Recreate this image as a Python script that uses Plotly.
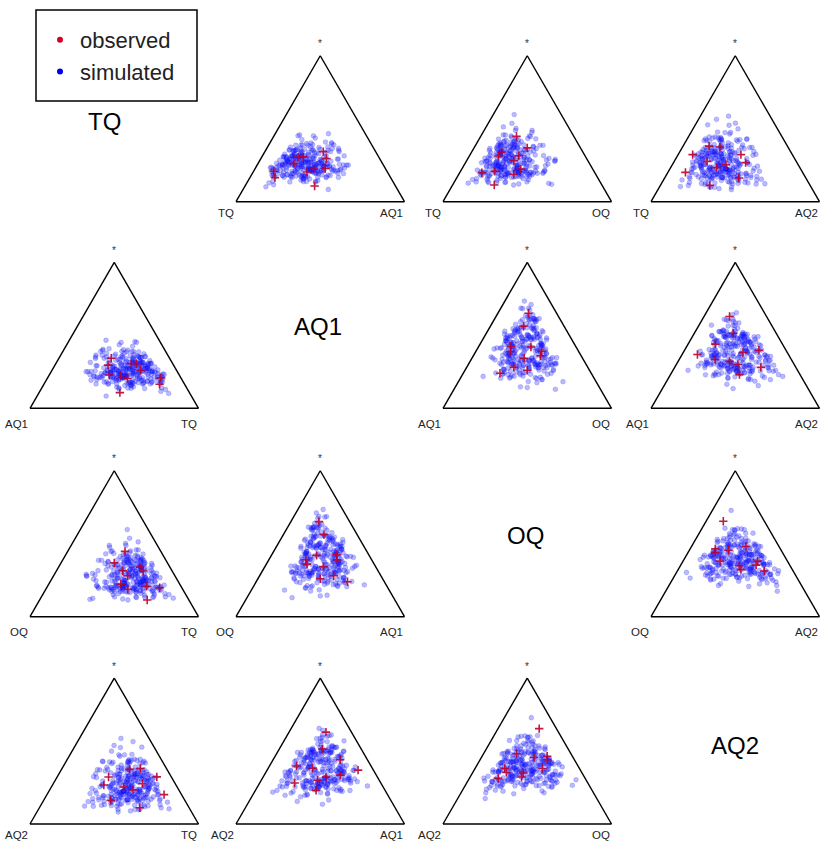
import numpy as np
import plotly.graph_objects as go

# ---------------- data ----------------
parts = ["TQ", "AQ1", "OQ", "AQ2"]

# simulated compositions, stored as log-ratios to TQ
sim_ln_AQ1_TQ = [
    -0.37, -1.27, -0.07, -0.79, 0.35, -0.49, -0.97, 0.71, -0.67, -0.19,
    -1.51, -0.31, -0.61, 0.11, -1.09, -0.55, -0.13, -0.85, -1.87, 0.23,
    -0.43, -0.73, -0.01, -1.15, -0.25, -0.91, 0.53, -1.03, -0.49, -1.39,
    -0.31, 0.05, -0.67, -1.21, -0.19, -0.43, -0.79, 0.29, -1.57, -0.07,
    -0.61, -0.37, -1.09, 0.17, -0.73, -0.13, -0.91, -0.55, 0.89, -1.33,
    -0.25, -0.67, 0.41, -0.85, -0.49, -1.15, -0.01, -0.97, -0.37, -1.69,
    0.11, -0.61, -0.31, -1.03, -0.19, 0.47, -0.79, -0.43, -1.27, -0.07,
    -0.73, -0.55, 0.23, -1.45, -0.25, -0.91, -0.43, 0.05, -1.09, -0.67,
    -0.13, -1.21, -0.37, 0.59, -0.85, -0.49, -1.03, -0.31, -1.75, 0.17,
    -0.61, -0.19, -0.79, -0.01, -1.33, -0.43, 0.35, -0.97, -0.55, -0.73,
    -0.07, -1.63, -0.31, 0.11, -0.91, -0.37, -0.67, 0.65, -1.15, -0.25,
    -0.79, -0.49, 0.29, -1.09, -0.13, -1.45, -0.55, -0.19, -0.61, 0.05,
    -1.27, -0.37, -0.97, 0.41, -0.73, -0.01, -2.05, -0.43, -0.25, -1.03,
    0.17, -0.85, -0.31, -1.21, -0.49, 0.53, -0.67, -0.91, -0.07, -1.39,
    -0.55, 0.23, -1.09, -0.37, -0.79, -0.13, -1.51, 0.05, -0.43, -0.61,
    -0.19, -1.15, 0.77, -0.73, -0.31, -0.97, 0.11, -1.27, -0.25, -0.49,
    -0.97, 0.12, -0.38, -1.64, -0.21, 0.37, -0.72, -1.14, 0.79, -0.55,
    -0.05, -1.39, 0.21, -0.89, -0.30, -1.56, 0.46, -0.47, -1.05, -0.13,
    -1.31, 0.63, -0.63, 0.04, -1.81, -0.38, -0.80, 0.29, -1.22, -0.21,
    0.63, -1.05, -0.30, 0.21, -1.47, -0.72, 0.54, -0.05, -0.89, -1.56,
    0.04, -1.31, -0.47, -0.97, 0.96, -0.38, -1.73, 0.12, -0.55, -0.13,
    -0.80, 0.37, -1.14, -0.21, -1.81, 0.21, -0.30, -0.63, 0.71, -1.05,
    -0.38, -1.39, -0.05, 0.46, -1.22, -0.55, -0.89, 0.88, -0.13, -1.64,
    0.21, -0.72, -1.05, -0.30, 0.29, -1.56, 0.04, -0.80, -0.21, 0.63,
    -1.47, -0.47, -0.97, -0.05, -0.38, -1.31, 0.54, -1.14, -0.30, -0.63,
    0.46, -1.73, 0.12, -0.80, -0.13, -1.05, -0.55, 0.37, -1.98, -0.21,
    -0.72, 0.21, -1.56, -0.05, -0.47, 0.71, -1.22, -0.30, -0.97, 0.29,
    -0.21, -1.47, -0.80, 0.04, -1.31, -0.38, 0.71, -0.89, 0.12, -1.81,
]
sim_ln_OQ_TQ = [
    -0.84, -0.66, -0.32, -1.47, 0.00, -0.09, -1.01, -0.37, 0.07, -0.49,
    -0.89, -1.06, -0.25, -0.53, -0.82, -1.60, 0.16, -0.79, -1.69, -0.01,
    -1.08, -0.06, -0.44, -0.64, -1.29, -0.77, -0.26, -0.43, -1.06, -0.92,
    0.47, -0.67, -0.59, -0.57, -1.05, -0.72, -0.15, 0.07, -1.43, -1.04,
    -0.36, -1.04, -0.92, -0.55, 0.14, -0.35, -1.59, -0.27, 0.09, -0.84,
    -0.67, -0.18, -0.53, -0.64, -1.72, -0.54, -0.24, -0.96, 0.18, -1.59,
    -0.23, -1.22, -0.25, -0.32, -0.90, -0.14, -1.01, 0.25, -0.81, -1.09,
    -0.32, -0.78, -0.57, -1.01, -0.01, -1.69, -0.26, -0.51, -0.76, -0.03,
    -1.02, -0.98, -0.84, 0.23, -0.74, -1.11, 0.03, -0.91, -1.17, -0.35,
    -0.10, -1.20, -0.40, -0.55, -0.84, -0.92, -0.20, -0.34, -1.55, -0.57,
    -0.53, -0.80, -1.16, -0.02, -0.82, 0.54, -1.15, 0.11, -1.26, -0.01,
    -0.60, -1.21, -0.39, -0.61, -0.92, -1.06, 0.09, -0.69, -0.30, -1.38,
    -0.81, -0.58, -0.24, -0.47, -0.32, -0.49, -1.28, -1.13, 0.30, -0.89,
    -0.65, -0.69, -1.32, -0.62, -0.09, -0.31, -0.44, -0.92, -1.04, -1.03,
    -0.17, -0.52, -0.61, -0.99, 0.11, -0.61, -1.14, -0.11, -1.28, -0.25,
    -0.69, -0.39, 0.02, -1.24, -0.25, -0.19, -0.63, -0.91, -1.08, -0.29,
    0.02, -0.39, -0.31, -1.90, 0.07, 1.02, -1.13, -0.85, -0.81, -0.68,
    -0.84, -0.78, 0.58, -1.07, -0.47, -1.79, 0.50, -1.13, -0.74, 0.68,
    -1.80, 0.23, -0.73, 0.49, -1.71, -0.73, -0.25, -1.01, -0.61, -0.36,
    0.66, -1.52, -0.33, -1.41, -0.68, -0.84, 0.97, -0.13, -1.50, -1.22,
    -0.58, -0.23, -1.56, -0.55, 0.77, -1.02, -1.17, -0.60, 0.60, -1.17,
    -0.74, 0.24, -1.49, 0.28, -2.21, -0.06, -0.69, -0.16, 0.99, -1.31,
    -0.59, -0.63, -1.26, 0.14, -1.25, 0.24, -1.50, 0.23, -0.03, -1.98,
    0.08, -0.06, -1.02, -0.97, 0.34, -0.37, -0.65, -0.74, -0.29, -0.83,
    -1.74, -0.49, -0.12, -1.33, -0.31, -1.09, 0.54, -1.35, 0.59, -0.87,
    0.36, -2.02, -0.11, -0.46, -1.73, -0.10, -1.11, -0.11, -1.66, 0.07,
    0.30, -0.56, -1.22, 0.02, -1.63, 0.63, -0.90, -1.04, -0.98, 0.69,
    -1.14, -0.89, -0.32, -0.51, -0.38, -1.37, 0.21, -0.01, -0.68, -1.28,
]
sim_ln_AQ2_TQ = [
    -0.08, -0.88, -1.03, -0.52, -0.15, -0.89, 0.06, -0.28, -0.78, 0.14,
    -0.91, -0.23, -1.34, -0.26, -0.15, -1.00, -0.27, -1.72, -0.71, -0.68,
    0.09, -0.54, -0.21, -1.19, -0.21, 0.29, -0.57, -0.50, -1.32, -0.79,
    -0.62, -0.19, 0.09, -0.85, -0.54, -1.35, -0.01, -0.65, -0.76, 0.33,
    -1.08, -0.40, -0.73, 0.76, -0.72, -0.54, -0.39, -1.11, 0.19, -0.65,
    0.04, -0.94, -0.20, -1.52, -0.40, -0.72, 0.46, -0.49, -0.87, -0.99,
    -0.53, -0.04, -1.17, -0.31, -0.06, -0.61, -0.58, -0.58, 0.27, -1.14,
    -0.48, -0.27, -0.80, -0.20, -1.50, -0.70, -0.58, 0.02, 0.09, -0.74,
    -0.58, -0.38, -1.25, 0.05, -0.82, 0.07, -1.02, -0.47, -0.57, -1.33,
    -0.19, -0.07, -0.62, -0.79, -0.31, 0.45, -0.53, -0.53, -0.60, -1.21,
    -0.91, -0.69, -0.02, -1.04, -0.45, -0.28, -0.20, -0.47, 0.08, -0.49,
    -0.22, -1.24, -0.19, -0.39, -1.56, -0.16, -0.75, -0.46, -0.68, -0.17,
    0.10, -0.75, -0.56, -0.02, -1.32, 0.06, -0.87, -1.05, -0.37, 0.58,
    -0.95, -0.41, -0.28, -0.80, 0.12, -0.92, -0.38, -0.03, -0.85, -0.75,
    -1.37, 0.05, -0.83, -0.28, -0.45, -0.94, -0.07, -0.57, -0.18, -1.17,
    -0.40, -1.02, 0.10, -0.12, -1.28, -0.38, -0.50, -0.37, -0.39, -0.82,
    -0.59, -0.16, -1.17, -0.10, -0.59, 0.50, -1.17, -0.73, 0.73, -1.59,
    -0.13, -0.91, 0.29, -1.12, -0.41, -1.47, 0.56, -1.21, -0.45, -1.70,
    -0.10, -0.25, -0.29, -0.85, -0.56, 0.77, -0.85, -0.34, -1.63, 0.17,
    -0.31, -0.85, 0.55, -1.77, -0.36, -1.11, 0.13, 0.41, -1.52, -1.04,
    0.10, -1.48, -0.52, 0.85, -0.39, -0.54, -1.52, -0.13, -1.25, 0.33,
    -0.72, 0.25, -1.17, 0.39, -1.84, -0.15, 0.64, -1.03, 0.01, -1.04,
    0.09, -1.53, -0.30, 0.64, -1.29, -0.15, -0.97, 0.66, -1.15, -0.67,
    -0.59, -0.40, 0.35, -1.30, 0.34, -1.48, -0.47, -0.17, -0.51, 0.39,
    -1.91, -0.29, -1.09, 0.62, -0.70, -0.10, -1.13, -0.67, 0.13, -1.26,
    0.76, -1.47, -0.02, -1.44, -0.65, 0.31, -0.83, -0.76, -0.43, -1.45,
    -0.41, 0.60, -1.58, -0.11, -1.08, 0.48, -1.61, 0.17, -0.56, -0.21,
    -0.15, -1.58, 0.46, -0.67, -0.34, -1.24, 0.70, -1.44, -0.07, -0.86,
]

# observed compositions, log-ratios to TQ
obs_ln_AQ1_TQ = [-1.72, -1.53, 0.11, 0.21, 0.15, -0.15, -0.60, -0.40, -0.90, -0.20, -0.80]
obs_ln_OQ_TQ = [-1.63, -0.95, 0.00, -0.47, -0.30, -1.06, -0.45, -1.10, -0.40, -0.20, -1.00]
obs_ln_AQ2_TQ = [-0.71, -1.90, 0.20, 0.34, -0.60, -1.93, -0.30, -0.60, -1.00, -1.10, 0.10]

legend_labels = ["observed", "simulated"]
margin_label = "*"

# ---------------- helpers ----------------
def to_logs(l1, l2, l3):
    l1 = np.asarray(l1, float)
    return {"TQ": np.zeros_like(l1), "AQ1": l1,
            "OQ": np.asarray(l2, float), "AQ2": np.asarray(l3, float)}

def subcomp(logs, A, B):
    """3-part subcomposition (A, B, * = geometric mean of the remaining parts)."""
    rest = [p for p in parts if p not in (A, B)]
    ls = (logs[rest[0]] + logs[rest[1]]) / 2.0
    la, lb = logs[A], logs[B]
    m = np.maximum(np.maximum(la, lb), ls)
    ea, eb, es = np.exp(la - m), np.exp(lb - m), np.exp(ls - m)
    tot = ea + eb + es
    return es / tot, ea / tot, eb / tot   # a (top), b (bottom-left), c (bottom-right)

sim_logs = to_logs(sim_ln_AQ1_TQ, sim_ln_OQ_TQ, sim_ln_AQ2_TQ)
obs_logs = to_logs(obs_ln_AQ1_TQ, obs_ln_OQ_TQ, obs_ln_AQ2_TQ)

# ---------------- layout geometry ----------------
W, H = 833, 848
col_left = [30, 236, 443, 651]
row_bottom = [201.7, 408.3, 616.7, 824.0]
side = 168.5
tri_h = side * np.sqrt(3) / 2
corner_off = [11, 16, 15, 11]
diag_pos = [(104, 121), (318, 326), (525, 535), (735, 745)]

FONT = "Liberation Sans, Arial, sans-serif"
SIM_COLOR = "rgba(25,25,255,0.30)"
SIM_LINE = "rgba(0,0,235,0.32)"
OBS_COLOR = "rgba(185,0,45,0.9)"

fig = go.Figure()
annotations = []
layout_tern = {}

axis_style = dict(showgrid=False, showticklabels=False, ticks="", showline=True,
                  linecolor="black", linewidth=1.4, title=dict(text=""), min=0)

k = 0
for i, A in enumerate(parts):
    for j, B in enumerate(parts):
        if i == j:
            continue
        k += 1
        name = "ternary" if k == 1 else f"ternary{k}"
        x0 = col_left[j]
        yb = row_bottom[i]
        layout_tern[name] = dict(
            domain=dict(x=[x0 / W, (x0 + side) / W],
                        y=[1 - yb / H, 1 - (yb - tri_h) / H]),
            aaxis=axis_style, baxis=axis_style, caxis=axis_style,
            bgcolor="white", sum=1,
        )
        sa, sb, sc = subcomp(sim_logs, A, B)
        fig.add_trace(go.Scatterternary(
            a=sa, b=sb, c=sc, mode="markers", subplot=name, showlegend=False,
            marker=dict(size=4.8, color=SIM_COLOR, line=dict(width=0.5, color=SIM_LINE)),
            hoverinfo="skip"))
        oa, ob, oc = subcomp(obs_logs, A, B)
        fig.add_trace(go.Scatterternary(
            a=oa, b=ob, c=oc, mode="markers", subplot=name, showlegend=False,
            marker=dict(size=6, symbol="cross-thin", color=OBS_COLOR,
                        line=dict(width=1.6, color=OBS_COLOR)),
            hoverinfo="skip"))
        # corner labels
        annotations.append(dict(x=x0 / W, y=1 - (yb + corner_off[i]) / H, xref="paper", yref="paper",
                                text=A, showarrow=False, xanchor="right", yanchor="middle",
                                font=dict(family=FONT, size=11.5, color="#222")))
        annotations.append(dict(x=(x0 + side) / W, y=1 - (yb + corner_off[i]) / H, xref="paper",
                                yref="paper", text=B, showarrow=False, xanchor="right",
                                yanchor="middle", font=dict(family=FONT, size=11.5, color="#222")))
        annotations.append(dict(x=(x0 + side / 2) / W, y=1 - (yb - tri_h - 12) / H, xref="paper",
                                yref="paper", text=margin_label, showarrow=False, xanchor="center",
                                yanchor="middle", font=dict(family=FONT, size=10, color="#333")))

for p, (px, py) in zip(parts, diag_pos):
    annotations.append(dict(x=px / W, y=1 - py / H, xref="paper", yref="paper", text=p,
                            showarrow=False, xanchor="center", yanchor="middle",
                            font=dict(family=FONT, size=24, color="black")))

# legend entries
fig.add_trace(go.Scatterternary(a=[None], b=[None], c=[None], mode="markers", subplot="ternary",
                                name=legend_labels[0], legendgroup="o",
                                marker=dict(size=6, color="rgb(215,0,35)")))
fig.add_trace(go.Scatterternary(a=[None], b=[None], c=[None], mode="markers", subplot="ternary",
                                name=legend_labels[1], legendgroup="o",
                                marker=dict(size=6, color="rgb(0,0,230)")))

fig.update_layout(
    width=W, height=H, margin=dict(l=0, r=0, t=0, b=0),
    paper_bgcolor="white", plot_bgcolor="white",
    showlegend=True,
    legend=dict(x=40 / W, y=1 - 19 / H, xanchor="left", yanchor="top",
                bgcolor="rgba(0,0,0,0)", borderwidth=0, tracegroupgap=0,
                font=dict(family=FONT, size=22, color="#222")),
    shapes=[dict(type="rect", xref="paper", yref="paper",
                 x0=36 / W, x1=197 / W, y0=1 - 101 / H, y1=1 - 10 / H,
                 line=dict(color="black", width=1.5))],
    annotations=annotations,
    **layout_tern,
)

fig.write_html("out.html")
